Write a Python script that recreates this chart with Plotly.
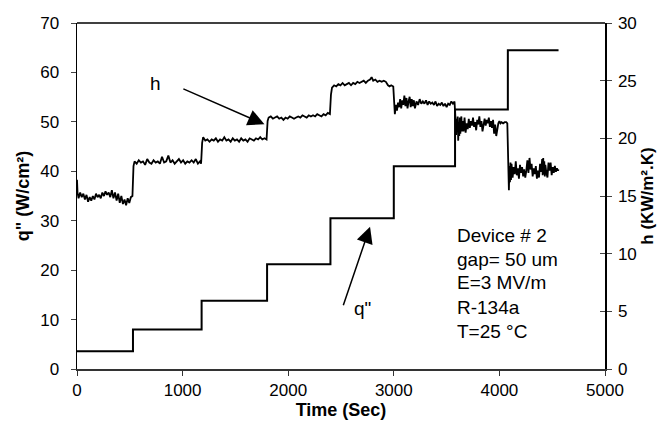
import plotly.graph_objects as go

# ---- data ----
q_step_times = [0, 530, 1180, 1800, 2400, 3000, 3580, 4080, 4560]
q_levels = [3.6, 8.0, 13.8, 21.2, 30.5, 41.0, 52.5, 64.5, 64.5]

h_time_1 = [0, 5, 15, 30, 45, 60, 75, 90, 105, 120, 135, 150, 165, 180, 195, 210, 225, 240, 255, 270,
            285, 300, 315, 330, 345, 360, 375, 390, 405, 420, 435, 450, 465, 480, 495, 510, 525]
h_val_1 = [16.4, 15.3, 14.8, 15.3, 14.9, 15.2, 14.7, 15.1, 14.5, 14.9, 14.6, 15.0, 14.7, 15.2, 14.9, 15.1,
           14.8, 15.3, 15.0, 15.4, 15.1, 15.3, 14.9, 15.5, 14.8, 15.3, 14.6, 15.2, 14.4, 15.0, 14.3, 14.7,
           14.2, 14.8, 14.4, 14.9, 15.0]

h_time_2 = [535, 545, 565, 585, 605, 625, 645, 665, 685, 705, 725, 745, 765, 785, 805, 825, 845, 865, 885,
            905, 925, 945, 965, 985, 1005, 1025, 1045, 1065, 1085, 1105, 1125, 1145, 1165, 1175]
h_val_2 = [17.6, 18.0, 17.8, 18.1, 17.9, 18.0, 17.7, 18.2, 17.9, 17.8, 18.1, 17.9, 18.0, 17.8, 18.4, 17.9,
           18.0, 18.5, 17.9, 18.1, 17.8, 18.0, 18.2, 17.9, 18.1, 17.8, 18.0, 17.9, 18.1, 17.9, 18.2, 17.8,
           18.0, 17.8]

h_time_3 = [1185, 1195, 1215, 1235, 1255, 1275, 1295, 1315, 1335, 1355, 1375, 1395, 1415, 1435, 1455, 1475,
            1495, 1515, 1535, 1555, 1575, 1595, 1615, 1635, 1655, 1675, 1695, 1715, 1735, 1755, 1775, 1795]
h_val_3 = [19.6, 20.1, 19.8, 19.9, 19.7, 19.9, 19.8, 20.0, 19.7, 19.9, 19.8, 20.1, 19.8, 19.9, 19.7, 20.0,
           19.8, 19.9, 19.7, 20.0, 19.8, 19.9, 19.7, 20.0, 19.9, 19.8, 20.0, 19.9, 20.1, 19.9, 20.0, 19.9]

h_time_4 = [1805, 1815, 1835, 1855, 1875, 1895, 1915, 1935, 1955, 1975, 1995, 2015, 2035, 2055, 2075, 2095,
            2115, 2135, 2155, 2175, 2195, 2215, 2235, 2255, 2275, 2295, 2315, 2335, 2355, 2375, 2395]
h_val_4 = [21.5, 21.8, 21.9, 21.7, 21.8, 21.9, 21.7, 21.8, 21.6, 21.8, 21.7, 21.9, 21.8, 21.7, 21.8, 21.9,
           21.8, 22.0, 21.9, 21.8, 22.0, 21.9, 22.0, 21.9, 22.1, 22.0, 21.9, 22.1, 22.0, 22.2, 22.1]

h_time_5 = [2405, 2415, 2435, 2455, 2475, 2495, 2515, 2535, 2555, 2575, 2595, 2615, 2635, 2655, 2675, 2695,
            2715, 2735, 2755, 2775, 2790, 2805, 2825, 2845, 2865, 2885, 2905, 2925, 2945, 2960, 2975, 2995]
h_val_5 = [23.8, 24.4, 24.6, 24.5, 24.7, 24.6, 24.8, 24.6, 24.7, 24.8, 24.6, 24.8, 24.7, 24.9, 24.8, 24.9,
           25.0, 24.8, 25.0, 25.1, 25.3, 25.0, 25.1, 24.9, 25.0, 24.9, 25.0, 24.9, 24.6, 24.5, 24.6, 24.5]

h_time_6 = [3005, 3010, 3020, 3030, 3040, 3050, 3060, 3070, 3080, 3090, 3100, 3110, 3120, 3130, 3140, 3150,
            3160, 3170, 3180, 3190, 3200, 3215, 3230, 3245, 3260, 3275, 3290, 3305, 3320, 3335, 3350, 3365,
            3380, 3395, 3410, 3425, 3440, 3455, 3470, 3485, 3500, 3515, 3530, 3545, 3560, 3575]
h_val_6 = [22.6, 22.1, 22.9, 22.4, 23.1, 22.7, 23.4, 22.6, 23.3, 22.9, 23.7, 22.8, 23.5, 22.6, 23.2, 23.6,
           22.7, 23.4, 22.8, 23.3, 22.6, 23.2, 22.9, 23.4, 23.0, 23.2, 23.0, 23.3, 22.9, 23.2, 23.0, 23.1,
           22.9, 23.2, 22.8, 23.0, 22.9, 23.1, 22.8, 23.0, 22.7, 23.0, 22.9, 23.2, 23.0, 23.2]

h_time_7 = [3585, 3590, 3595, 3600, 3605, 3610, 3615, 3620, 3625, 3630, 3635, 3640, 3645, 3650, 3660, 3670,
            3680, 3690, 3700, 3710, 3720, 3730, 3740, 3750, 3760, 3770, 3780, 3790, 3800, 3810, 3820, 3830,
            3840, 3850, 3860, 3870, 3880, 3890, 3900, 3910, 3920, 3930, 3940, 3950, 3960, 3970, 3980, 3990,
            4000, 4010, 4020, 4035, 4050, 4065, 4075]
h_val_7 = [21.5, 20.3, 21.7, 20.9, 21.9, 19.8, 21.4, 20.2, 21.8, 20.4, 21.2, 21.9, 20.6, 21.5, 20.6, 21.8,
           20.5, 21.3, 20.8, 21.7, 20.9, 21.5, 21.1, 21.8, 21.0, 21.4, 20.7, 21.6, 21.2, 21.9, 21.0, 21.5,
           20.6, 21.3, 21.7, 21.1, 21.6, 21.3, 21.8, 21.0, 21.5, 20.9, 21.6, 20.4, 21.2, 20.2, 21.0, 21.3,
           21.5, 21.3, 21.4, 21.3, 21.4, 21.4, 21.3]

h_time_8 = [4085, 4090, 4095, 4100, 4105, 4110, 4115, 4125, 4135, 4145, 4155, 4165, 4175, 4185, 4195, 4205,
            4215, 4225, 4235, 4245, 4255, 4265, 4275, 4285, 4295, 4305, 4315, 4325, 4335, 4345, 4355, 4365,
            4375, 4385, 4395, 4405, 4410, 4415, 4420, 4425, 4430, 4435, 4445, 4455, 4465, 4475, 4485, 4495,
            4505, 4515, 4525, 4535, 4545, 4555, 4560]
h_val_8 = [18.6, 15.5, 17.6, 16.2, 17.9, 16.4, 17.8, 16.6, 17.5, 16.9, 18.0, 16.8, 17.4, 16.5, 17.7, 17.0,
           17.5, 16.7, 17.3, 16.6, 17.2, 18.1, 17.0, 18.3, 17.3, 17.8, 16.7, 17.4, 16.9, 17.6, 16.5, 17.2,
           16.6, 17.8, 17.1, 18.2, 16.8, 18.3, 16.9, 18.0, 16.7, 17.7, 17.0, 16.6, 17.9, 17.2, 17.9, 16.8,
           17.5, 17.0, 17.6, 17.1, 17.4, 17.2, 17.3]

x_ticks = [0, 1000, 2000, 3000, 4000, 5000]
q_ticks = [0, 10, 20, 30, 40, 50, 60, 70]
h_ticks = [0, 5, 10, 15, 20, 25, 30]

info_lines = ["Device # 2", "gap= 50 um", "E=3 MV/m", "R-134a", "T=25 °C"]
info_q_pos = [27.1, 22.2, 17.5, 12.5, 7.6]

h_time = h_time_1 + h_time_2 + h_time_3 + h_time_4 + h_time_5 + h_time_6 + h_time_7 + h_time_8
h_val = h_val_1 + h_val_2 + h_val_3 + h_val_4 + h_val_5 + h_val_6 + h_val_7 + h_val_8

FONT = "Liberation Sans, Arial, sans-serif"

fig = go.Figure()
fig.add_trace(go.Scatter(x=q_step_times, y=q_levels, mode="lines", line=dict(color="black", width=2, shape="hv"),
                         showlegend=False, hoverinfo="skip"))
fig.add_trace(go.Scatter(x=h_time, y=h_val, mode="lines", yaxis="y2", line=dict(color="black", width=1.8),
                         showlegend=False, hoverinfo="skip"))
# invisible trace so the inner half of the right-axis cross ticks is drawn
fig.add_trace(go.Scatter(x=[q_step_times[0]], y=[h_ticks[0]], mode="lines", yaxis="y3",
                         line=dict(color="rgba(0,0,0,0)"), showlegend=False, hoverinfo="skip"))

annotations = []
for txt, qy in zip(info_lines, info_q_pos):
    annotations.append(dict(x=3580, y=qy, xref="x", yref="y", text=txt, showarrow=False,
                            xanchor="left", yanchor="middle", font=dict(family=FONT, size=19, color="black")))
annotations.append(dict(x=740, y=57.8, xref="x", yref="y", text="h", showarrow=False,
                        font=dict(family=FONT, size=19, color="black")))
annotations.append(dict(x=1775, y=49.5, ax=993, ay=56.8, xref="x", yref="y", axref="x", ayref="y",
                        text="", showarrow=True, arrowhead=2, arrowsize=2.2, arrowwidth=1.5, arrowcolor="black"))
annotations.append(dict(x=2700, y=12.3, xref="x", yref="y", text='q"', showarrow=False,
                        font=dict(family=FONT, size=19, color="black")))
annotations.append(dict(x=2775, y=28.8, ax=2517, ay=12.6, xref="x", yref="y", axref="x", ayref="y",
                        text="", showarrow=True, arrowhead=2, arrowsize=2.2, arrowwidth=1.5, arrowcolor="black"))

fig.update_layout(
    width=660, height=426,
    margin=dict(l=77, r=55, t=23, b=57),
    paper_bgcolor="white", plot_bgcolor="white",
    font=dict(family=FONT, size=17, color="black"),
    xaxis=dict(range=[0, 5000], tickvals=x_ticks, showgrid=False, zeroline=False, automargin=False,
               showline=True, linecolor="#333", linewidth=2, ticks="outside", ticklen=5, tickcolor="#333",
               title=dict(text="<b>Time (Sec)</b>", font=dict(size=18), standoff=2)),
    yaxis=dict(range=[0, 70], tickvals=q_ticks, showgrid=False, zeroline=False, automargin=False,
               showline=True, linecolor="black", linewidth=1.5, ticks="outside", ticklen=5,
               ticklabelstandoff=8,
               title=dict(text='<b>q" (W/cm²)</b>', font=dict(size=18), standoff=6)),
    yaxis2=dict(range=[0, 30], tickvals=h_ticks, overlaying="y", side="right", showgrid=False, zeroline=False,
                automargin=False, showline=True, linecolor="black", linewidth=1.5, ticks="outside", ticklen=5,
                ticklabelstandoff=3,
                title=dict(text="<b>h (KW/m².K)</b>", font=dict(size=17), standoff=5)),
    yaxis3=dict(range=[0, 30], tickvals=h_ticks, overlaying="y", side="right", showgrid=False, zeroline=False,
                automargin=False, showline=False, ticks="inside", ticklen=5, showticklabels=False),
    annotations=annotations,
    shapes=[dict(type="line", xref="paper", yref="paper", x0=0, x1=1, y0=1, y1=1,
                 line=dict(color="black", width=1.5))],
)

fig.write_html("out.html", config={"displayModeBar": False, "staticPlot": True},
               post_script="document.body.style.margin='0px';document.body.style.overflow='hidden';")
